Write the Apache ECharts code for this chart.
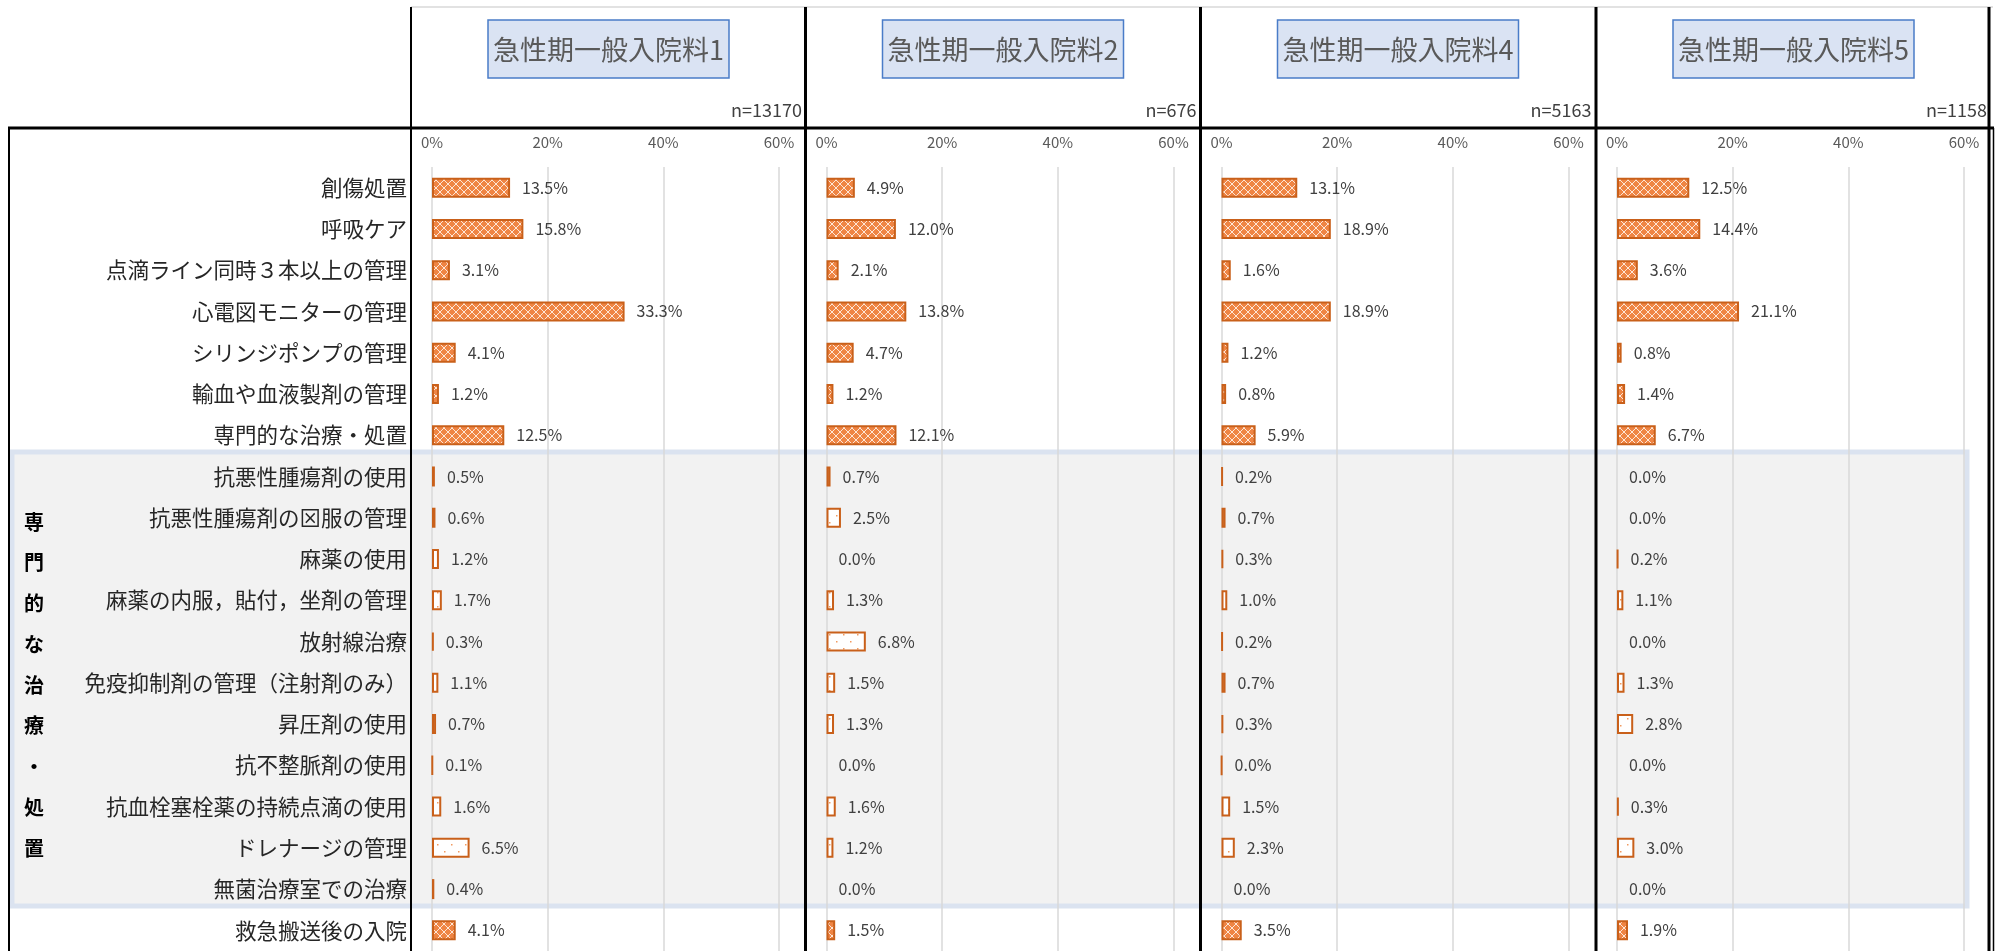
<!DOCTYPE html>
<html>
<head>
<meta charset="utf-8">
<script src="https://cdn.jsdelivr.net/npm/echarts@6/dist/echarts.min.js"></script>
<style>
  body { margin: 0; background: #fff; }
  #chart { width: 1995px; height: 951px; }
</style>
</head>
<body>
<div id="chart"></div>
<script>
// rows, top to bottom
const categories = [
  '創傷処置',
  '呼吸ケア',
  '点滴ライン同時３本以上の管理',
  '心電図モニターの管理',
  'シリンジポンプの管理',
  '輸血や血液製剤の管理',
  '専門的な治療・処置',
  '抗悪性腫瘍剤の使用',
  '抗悪性腫瘍剤の⊠服の管理',
  '麻薬の使用',
  '麻薬の内服，貼付，坐剤の管理',
  '放射線治療',
  '免疫抑制剤の管理（注射剤のみ）',
  '昇圧剤の使用',
  '抗不整脈剤の使用',
  '抗血栓塞栓薬の持続点滴の使用',
  'ドレナージの管理',
  '無菌治療室での治療',
  '救急搬送後の入院'
]

// percent values per panel
const values1 = [13.5, 15.8, 3.1, 33.3, 4.1, 1.2, 12.5, 0.5, 0.6, 1.2, 1.7, 0.3, 1.1, 0.7, 0.1, 1.6, 6.5, 0.4, 4.1]
const values2 = [4.9, 12.0, 2.1, 13.8, 4.7, 1.2, 12.1, 0.7, 2.5, 0.0, 1.3, 6.8, 1.5, 1.3, 0.0, 1.6, 1.2, 0.0, 1.5]
const values4 = [13.1, 18.9, 1.6, 18.9, 1.2, 0.8, 5.9, 0.2, 0.7, 0.3, 1.0, 0.2, 0.7, 0.3, 0.04, 1.5, 2.3, 0.0, 3.5]
const values5 = [12.5, 14.4, 3.6, 21.1, 0.8, 1.4, 6.7, 0.0, 0.0, 0.2, 1.1, 0.0, 1.3, 2.8, 0.0, 0.3, 3.0, 0.0, 1.9]

const panelTitles = ['急性期一般入院料1', '急性期一般入院料2', '急性期一般入院料4', '急性期一般入院料5']
const panelN = ['n=13170', 'n=676', 'n=5163', 'n=1158']
const axisMin = 0
const axisMax = 60
const axisStep = 20

// rows inside the grouped block
const groupLabel = '専門的な治療・処置'
const groupFirst = 7
const groupLast = 17

const panelValues = [values1, values2, values4, values5]
const panelLeft = [411, 805.5, 1200.5, 1596]
const gridTop = 167
const rowH = 41.5
const FONT = '"Noto Sans CJK JP", "Noto Sans", sans-serif'

function densePattern () {
  let c = document.createElement('canvas')
  c.width = 8
  c.height = 8
  let ctx = c.getContext('2d')
  ctx.fillStyle = '#ef8544'
  ctx.fillRect(0, 0, 8, 8)
  ctx.fillStyle = '#fde6d6'
  for (let i = 0; i < 8; i++) {
    ctx.fillRect(i, i, 1, 1)
    ctx.fillRect(7 - i, i, 1, 1)
  }
  return c
}

function sparsePattern () {
  let c = document.createElement('canvas')
  c.width = 14
  c.height = 14
  let ctx = c.getContext('2d')
  ctx.fillStyle = '#ffffff'
  ctx.fillRect(0, 0, 14, 14)
  ctx.fillStyle = '#f19a60'
  ctx.fillRect(3, 4, 1.5, 1.5)
  ctx.fillRect(10, 11, 1.5, 1.5)
  return c
}

const dense = { image: densePattern(), repeat: 'repeat' }
const sparse = { image: sparsePattern(), repeat: 'repeat' }

function itemStyleFor (k, v) {
  let inGroup = k >= groupFirst && k <= groupLast
  return {
    color: inGroup ? sparse : dense,
    borderColor: '#c9601a',
    borderWidth: v > 0 ? 2 : 0
  }
}

let grids = []
let xAxes = []
let yAxes = []
let series = []
let graphics = []

// shaded block behind the grouped rows
graphics.push({
  type: 'rect',
  z: -5,
  shape: { x: 12, y: 452, width: 1955, height: 454 },
  style: { fill: '#f2f2f2', stroke: '#dbe3f0', lineWidth: 5 }
})

panelValues.forEach((vals, i) => {
  let L = panelLeft[i]
  grids.push({ left: L + 21, top: gridTop, width: 347, height: rowH * categories.length })
  xAxes.push({
    type: 'value',
    gridIndex: i,
    position: 'top',
    min: axisMin,
    max: axisMax,
    interval: axisStep,
    z: 2,
    axisLine: { show: false },
    axisTick: { show: false },
    axisLabel: { formatter: '{value}%', fontSize: 15, color: '#595959', margin: 17, fontFamily: FONT },
    splitLine: { lineStyle: { color: '#d9d9d9', width: 1.5 } }
  })
  yAxes.push({
    type: 'category',
    gridIndex: i,
    inverse: true,
    data: categories,
    z: 2,
    axisLine: { show: false },
    axisTick: { show: false },
    axisLabel: {
      show: i === 0,
      fontSize: 21.5,
      color: '#262626',
      margin: 25,
      fontFamily: FONT
    }
  })
  series.push({
    type: 'bar',
    xAxisIndex: i,
    yAxisIndex: i,
    barWidth: 20,
    z: 3,
    data: vals.map((v, k) => ({ value: v, itemStyle: itemStyleFor(k, v) })),
    label: {
      show: true,
      position: 'right',
      distance: 12,
      fontSize: 16,
      color: '#404040',
      fontFamily: FONT,
      formatter: p => p.value.toFixed(1) + '%'
    }
  })

  // header box + n
  graphics.push({
    type: 'rect',
    z: 10,
    shape: { x: L + 77, y: 20, width: 241, height: 58 },
    style: { fill: '#dae3f3', stroke: '#4a7cc8', lineWidth: 1.5 }
  })
  graphics.push({
    type: 'text',
    z: 11,
    x: L + 197.5,
    y: 50,
    style: {
      text: panelTitles[i],
      fontSize: 27,
      fontFamily: FONT,
      fill: '#595959',
      align: 'center',
      verticalAlign: 'middle'
    }
  })
  graphics.push({
    type: 'text',
    z: 11,
    x: L + 391,
    y: 110,
    style: {
      text: panelN[i],
      fontSize: 18,
      fontFamily: FONT,
      fill: '#404040',
      align: 'right',
      verticalAlign: 'middle'
    }
  })
})

// frame lines
graphics.push({ type: 'line', z: 12, shape: { x1: 411, y1: 7, x2: 1993, y2: 7 }, style: { stroke: '#d9d9d9', lineWidth: 1.5 } })
graphics.push({ type: 'line', z: 12, shape: { x1: 8, y1: 128, x2: 1994, y2: 128 }, style: { stroke: '#000', lineWidth: 3 } })
graphics.push({ type: 'line', z: 12, shape: { x1: 9, y1: 128, x2: 9, y2: 951 }, style: { stroke: '#000', lineWidth: 2 } })
graphics.push({ type: 'line', z: 12, shape: { x1: 1993.5, y1: 128, x2: 1993.5, y2: 951 }, style: { stroke: '#000', lineWidth: 1.5 } })
graphics.push({ type: 'line', z: 12, shape: { x1: 411, y1: 7, x2: 411, y2: 951 }, style: { stroke: '#000', lineWidth: 2 } })
;[805.5, 1200.5, 1596, 1989].forEach(x => {
  graphics.push({ type: 'line', z: 12, shape: { x1: x, y1: 7, x2: x, y2: 951 }, style: { stroke: '#000', lineWidth: 3 } })
})

// vertical group caption
graphics.push({
  type: 'text',
  z: 11,
  x: 34,
  y: 685,
  style: {
    text: groupLabel.split('').join('\n'),
    fontSize: 20,
    fontWeight: 'bold',
    fontFamily: FONT,
    fill: '#000',
    lineHeight: 40.75,
    align: 'center',
    verticalAlign: 'middle'
  }
})

let chart = echarts.init(document.getElementById('chart'))
chart.setOption({
  animation: false,
  grid: grids,
  xAxis: xAxes,
  yAxis: yAxes,
  series: series,
  graphic: { elements: graphics }
})
</script>
</body>
</html>
